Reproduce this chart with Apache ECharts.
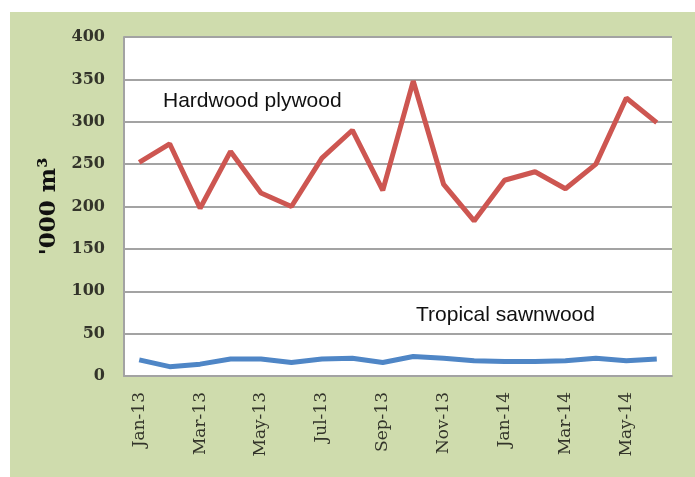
<!DOCTYPE html>
<html>
<head>
<meta charset="utf-8">
<script src="https://cdn.jsdelivr.net/npm/echarts@6/dist/echarts.min.js"></script>
<style>
	html, body { margin: 0; padding: 0; background: #fff; }
	#main { width: 695px; height: 477px; }
</style>
</head>
<body>
<div id="main"></div>
<script>
// months Jan-13 .. Jun-14
var months = ['Jan-13', 'Feb-13', 'Mar-13', 'Apr-13', 'May-13', 'Jun-13', 'Jul-13', 'Aug-13', 'Sep-13',
	'Oct-13', 'Nov-13', 'Dec-13', 'Jan-14', 'Feb-14', 'Mar-14', 'Apr-14', 'May-14', 'Jun-14'];
var hardwoodPlywood = [252, 274, 198, 265, 216, 200, 257, 290, 219, 348, 226, 183, 231, 241, 221, 250, 328, 299];
var tropicalSawnwood = [19, 11, 14, 20, 20, 16, 20, 21, 16, 23, 21, 18, 17, 17, 18, 21, 18, 20];
var yTicks = { min: 0, max: 400, interval: 50 };

var chart = echarts.init(document.getElementById('main'));

var textColor = '#33342a';
var gridColor = '#a3a3a3';

var option = {
	animation: false,
	backgroundColor: '#fff',
	graphic: [
		{
			type: 'rect',
			z: -10,
			shape: { x: 10, y: 12, width: 685, height: 465 },
			style: { fill: '#cfdcad' }
		},
		{
			type: 'text',
			left: 163,
			top: 91,
			style: { text: 'Hardwood plywood', font: '21px "Liberation Sans", Arial, sans-serif', fill: '#111' }
		},
		{
			type: 'text',
			left: 416,
			top: 305,
			style: { text: 'Tropical sawnwood', font: '21px "Liberation Sans", Arial, sans-serif', fill: '#111' }
		}
	],
	grid: {
		left: 124,
		right: 23,
		top: 37,
		bottom: 101,
		show: true,
		backgroundColor: '#fff',
		borderWidth: 0
	},
	xAxis: {
		type: 'category',
		data: months,
		boundaryGap: true,
		axisLine: { lineStyle: { color: gridColor, width: 2 } },
		axisTick: { show: false },
		axisLabel: {
			interval: 1,
			rotate: 90,
			margin: 16,
			color: textColor,
			fontSize: 17,
			fontFamily: '"DejaVu Serif", "Liberation Serif", serif'
		}
	},
	yAxis: {
		type: 'value',
		min: yTicks.min,
		max: yTicks.max,
		interval: yTicks.interval,
		name: "'000 m³",
		nameLocation: 'middle',
		nameGap: 58,
		nameRotate: 90,
		nameTextStyle: {
			color: '#111',
			fontSize: 23,
			fontWeight: 'bold',
			fontFamily: '"DejaVu Serif", "Liberation Serif", serif'
		},
		axisLine: { show: true, lineStyle: { color: gridColor, width: 2 } },
		axisTick: { show: false },
		splitLine: { lineStyle: { color: gridColor, width: 2 } },
		axisLabel: {
			margin: 19,
			color: textColor,
			fontSize: 16,
			fontWeight: 'bold',
			fontFamily: '"DejaVu Serif", "Liberation Serif", serif'
		}
	},
	series: [
		{
			name: 'Hardwood plywood',
			type: 'line',
			data: hardwoodPlywood,
			showSymbol: false,
			lineStyle: { color: '#cd5651', width: 5 },
			itemStyle: { color: '#cd5651' }
		},
		{
			name: 'Tropical sawnwood',
			type: 'line',
			data: tropicalSawnwood,
			showSymbol: false,
			lineStyle: { color: '#4f86c6', width: 5 },
			itemStyle: { color: '#4f86c6' }
		}
	]
};

chart.setOption(option);
</script>
</body>
</html>
